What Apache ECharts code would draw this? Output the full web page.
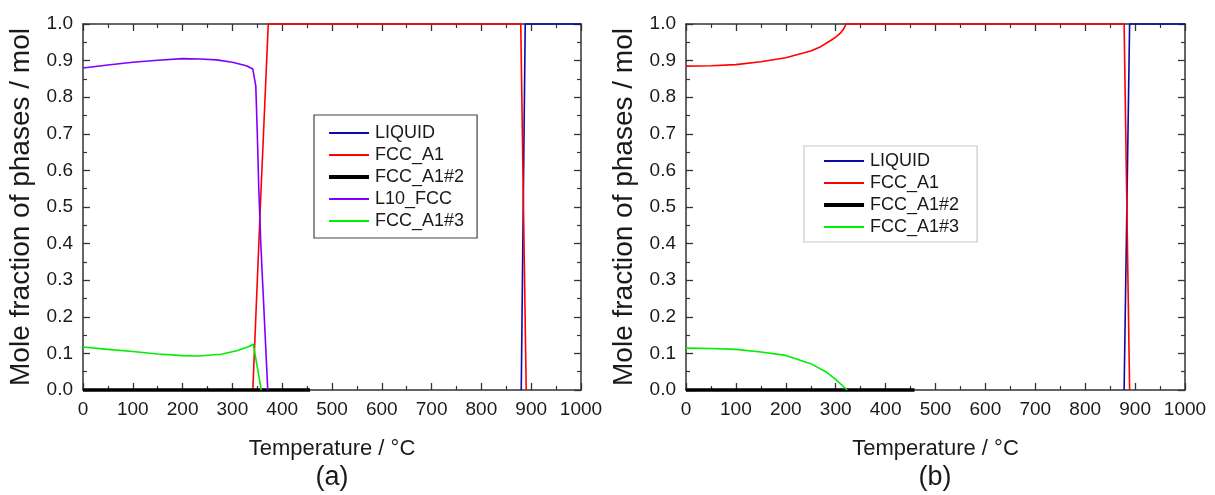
<!DOCTYPE html>
<html>
<head>
<meta charset="utf-8">
<script src="https://cdn.jsdelivr.net/npm/echarts@6/dist/echarts.min.js"></script>
<style>
  html, body { margin: 0; padding: 0; background: #ffffff; }
  #chart { width: 1215px; height: 495px; }
</style>
</head>
<body>
<div id="chart"></div>
<script>
// Equilibrium mole fraction of phases versus temperature, two compositions (a) and (b)

// axis ranges and tick steps
const tempRange = [0, 1000];
const tempStep = 100;
const fracRange = [0, 1];
const fracStep = 0.1;

// panel (a): [temperature °C, mole fraction]
const liquidA = [[880, 0], [888, 1], [1000, 1]];
const fccA1A = [[341, 0], [357, 0.53], [372, 1], [879, 1], [890, 0]];
const fccA1n2A = [[0, 0], [456, 0]];
const l10FccA = [[0, 0.880], [50, 0.888], [100, 0.8955], [150, 0.901], [200, 0.9055], [235, 0.9045],
                 [268, 0.902], [300, 0.8955], [328, 0.886], [341, 0.877], [344, 0.873], [347, 0.83],
                 [350, 0.70], [353, 0.55], [357, 0.40], [371, 0]];
const fccA1n3A = [[0, 0.1176], [50, 0.111], [100, 0.105], [150, 0.0985], [200, 0.094], [232, 0.093],
                  [277, 0.0975], [309, 0.107], [332, 0.118], [342, 0.125], [350, 0.0625], [358, 0]];

// panel (b)
const liquidB = [[878, 0], [889, 1], [1000, 1]];
const fccA1B = [[0, 0.885], [50, 0.886], [100, 0.889], [150, 0.897], [200, 0.908], [250, 0.926],
                [270, 0.938], [290, 0.955], [300, 0.964], [310, 0.976], [316, 0.987], [321, 1],
                [878, 1], [889, 0]];
const fccA1n2B = [[0, 0], [458, 0]];
const fccA1n3B = [[0, 0.1145], [50, 0.1135], [100, 0.111], [150, 0.104], [200, 0.0945], [250, 0.072],
                  [280, 0.050], [300, 0.029], [323, 0]];

const legendA = ['LIQUID', 'FCC_A1', 'FCC_A1#2', 'L10_FCC', 'FCC_A1#3'];
const legendB = ['LIQUID', 'FCC_A1', 'FCC_A1#2', 'FCC_A1#3'];
const panelLabels = ['(a)', '(b)'];

const FONT = '"Liberation Sans", Arial, sans-serif';
const AXIS_COLOR = '#333333';
const TEXT_COLOR = '#1a1a1a';

const phaseColor = {
  'LIQUID': '#0a0aa8',
  'FCC_A1': '#ff0000',
  'FCC_A1#2': '#000000',
  'L10_FCC': '#8000ff',
  'FCC_A1#3': '#00ee00'
};
const phaseWidth = { 'FCC_A1#2': 3.5 };
const widthOf = name => phaseWidth[name] || 1.6;

function tickStyle() {
  return {
    axisLine: { show: true, onZero: false, lineStyle: { color: AXIS_COLOR, width: 1.5 } },
    axisTick: { show: true, inside: true, length: 7, lineStyle: { color: AXIS_COLOR, width: 1.3 } },
    minorTick: { show: true, splitNumber: 2, length: 4, lineStyle: { color: AXIS_COLOR, width: 1.2 } },
    splitLine: { show: false },
    minorSplitLine: { show: false }
  };
}

function xAxis(grid, position, labelled) {
  return Object.assign({
    type: 'value', gridIndex: grid, position: position,
    min: tempRange[0], max: tempRange[1], interval: tempStep,
    axisLabel: { show: labelled, color: TEXT_COLOR, fontSize: 19, fontFamily: FONT, margin: 10,
                 formatter: v => String(v) },
    name: labelled ? 'Temperature / °C' : '',
    nameLocation: 'middle', nameGap: 48,
    nameTextStyle: { color: TEXT_COLOR, fontSize: 22, fontFamily: FONT }
  }, tickStyle());
}

function yAxis(grid, position, labelled) {
  return Object.assign({
    type: 'value', gridIndex: grid, position: position,
    min: fracRange[0], max: fracRange[1], interval: fracStep,
    axisLabel: { show: labelled, color: TEXT_COLOR, fontSize: 19, fontFamily: FONT, margin: 10,
                 formatter: v => v.toFixed(1) },
    name: labelled ? 'Mole fraction of phases / mol' : '',
    nameLocation: 'middle', nameGap: 48, nameRotate: 90,
    nameTextStyle: { color: TEXT_COLOR, fontSize: 28, fontFamily: FONT }
  }, tickStyle());
}

function line(name, data, axisIdx) {
  return {
    type: 'line', name: name, data: data,
    xAxisIndex: axisIdx, yAxisIndex: axisIdx,
    symbol: 'none', smooth: false, clip: false,
    lineStyle: { color: phaseColor[name], width: widthOf(name) },
    itemStyle: { color: phaseColor[name] },
    emphasis: { disabled: true }
  };
}

function legend(names, left, top, border, padding) {
  return {
    data: names.map(n => ({ name: n, lineStyle: { width: widthOf(n) + 0.6, color: phaseColor[n] } })),
    orient: 'vertical', left: left, top: top,
    itemWidth: 40, itemHeight: 14, itemGap: 4,
    padding: padding,
    borderColor: border, borderWidth: 1.2, backgroundColor: '#ffffff',
    itemStyle: { opacity: 0 },
    textStyle: { color: TEXT_COLOR, fontSize: 18, fontFamily: FONT, padding: [0, 0, 0, 1] },
    selectedMode: false
  };
}

const chart = echarts.init(document.getElementById('chart'), null, { renderer: 'canvas' });

chart.setOption({
  animation: false,
  backgroundColor: '#ffffff',
  grid: [
    { left: 83, top: 24, width: 498, height: 366 },
    { left: 686, top: 24, width: 499, height: 366 }
  ],
  xAxis: [xAxis(0, 'bottom', true), xAxis(0, 'top', false), xAxis(1, 'bottom', true), xAxis(1, 'top', false)],
  yAxis: [yAxis(0, 'left', true), yAxis(0, 'right', false), yAxis(1, 'left', true), yAxis(1, 'right', false)],
  legend: [
    legend(legendA, 314, 115, '#444444', [9, 13, 8, 13]),
    legend(legendB, 804, 146, '#c8c8c8', [6, 18, 6, 18])
  ],
  graphic: [
    { type: 'text', x: 332, y: 478, style: { text: panelLabels[0], font: '27px ' + FONT, fill: TEXT_COLOR, align: 'center', verticalAlign: 'middle' } },
    { type: 'text', x: 935, y: 478, style: { text: panelLabels[1], font: '27px ' + FONT, fill: TEXT_COLOR, align: 'center', verticalAlign: 'middle' } }
  ],
  series: [
    line('LIQUID', liquidA, 0),
    line('FCC_A1', fccA1A, 0),
    line('FCC_A1#2', fccA1n2A, 0),
    line('L10_FCC', l10FccA, 0),
    line('FCC_A1#3', fccA1n3A, 0),
    line('LIQUID', liquidB, 2),
    line('FCC_A1', fccA1B, 2),
    line('FCC_A1#2', fccA1n2B, 2),
    line('FCC_A1#3', fccA1n3B, 2)
  ]
});
</script>
</body>
</html>
